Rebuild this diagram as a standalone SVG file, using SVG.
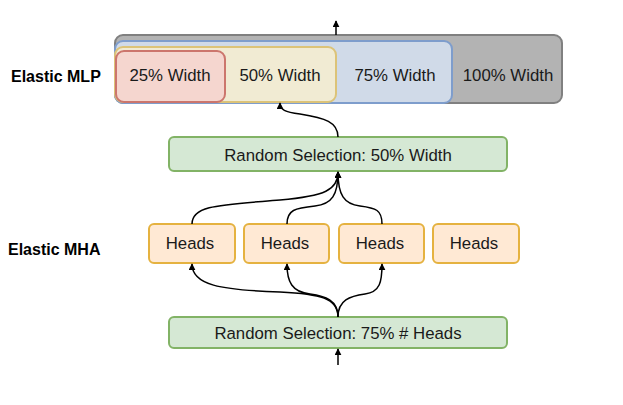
<svg xmlns="http://www.w3.org/2000/svg" width="623" height="405" viewBox="0 0 623 405">
<style>
text{font-family:"Liberation Sans",Arial,sans-serif;font-size:16.8px;fill:#1a1a1a;text-anchor:middle}
.lbl{font-weight:bold;font-size:16px;text-anchor:start;fill:#000}
.box{stroke-width:2}
.grn{fill:#d5e8d4;stroke:#82b366}
.hd{fill:#ffe9d4;stroke:#e5b240}
.c{fill:none;stroke:#000;stroke-width:1.5}
</style>
<defs>
<marker id="ah" viewBox="0 0 10 10" refX="9" refY="5" markerWidth="7" markerHeight="7" orient="auto" markerUnits="userSpaceOnUse">
<path d="M0,0 L10,5 L0,10 Z" fill="#000"/>
</marker>
</defs>
<text class="lbl" x="11" y="82">Elastic MLP</text>
<text class="lbl" x="8" y="255">Elastic MHA</text>
<g id="w100"><rect class="box" x="115" y="35" width="447" height="68" rx="8" fill="#b3b3b3" stroke="#808080"/><text x="508" y="81">100% Width</text></g>
<g id="w75"><rect class="box" x="115" y="41" width="337" height="62" rx="8" fill="#d0dae8" stroke="#7e9dcc"/><text x="395" y="81">75% Width</text></g>
<g id="w50"><rect class="box" x="115" y="47" width="221" height="55" rx="8" fill="#f1ebd3" stroke="#dcc378"/><text x="280" y="81">50% Width</text></g>
<g id="w25"><rect class="box" x="116" y="51" width="109" height="51" rx="8" fill="#f5d6cf" stroke="#cc766d"/><text x="170" y="81">25% Width</text></g>
<g id="rs50"><rect class="box grn" x="169" y="137" width="338" height="34" rx="5"/><text x="338" y="161">Random Selection: 50% Width</text></g>
<g id="h1"><rect class="box hd" x="149" y="224" width="86" height="39" rx="5"/><text x="190" y="249">Heads</text></g>
<g id="h2"><rect class="box hd" x="244" y="224" width="85" height="39" rx="5"/><text x="285" y="249">Heads</text></g>
<g id="h3"><rect class="box hd" x="339" y="224" width="85" height="39" rx="5"/><text x="380" y="249">Heads</text></g>
<g id="h4"><rect class="box hd" x="433" y="224" width="86" height="39" rx="5"/><text x="474" y="249">Heads</text></g>
<g id="rs75"><rect class="box grn" x="169" y="317" width="338" height="31" rx="5"/><text x="338" y="339">Random Selection: 75% # Heads</text></g>
<g id="connectors">
<path class="c" d="M336,35 V21" marker-end="url(#ah)"/>
<path class="c" d="M338,137 C338,122 325,118 300,114 C285,112 280,110 280,103" marker-end="url(#ah)"/>
<path class="c" d="M192,224 C192,205 220,205 280,200 C325,196 338,190 338,172" marker-end="url(#ah)"/>
<path class="c" d="M287,224 C287,210 295,208 315,206 C332,204 338,195 338,172" marker-end="url(#ah)"/>
<path class="c" d="M382,224 C382,210 376,208 360,206 C344,204 338,195 338,172" marker-end="url(#ah)"/>
<path class="c" d="M338,317 C338,298 320,294 280,292 C220,290 192,285 192,264" marker-end="url(#ah)"/>
<path class="c" d="M338,317 C338,300 325,296 310,294 C292,292 287,282 287,264" marker-end="url(#ah)"/>
<path class="c" d="M338,317 C338,300 350,296 365,294 C380,292 382,282 382,264" marker-end="url(#ah)"/>
<path class="c" d="M338,365 V349" marker-end="url(#ah)"/>
</g>
</svg>
